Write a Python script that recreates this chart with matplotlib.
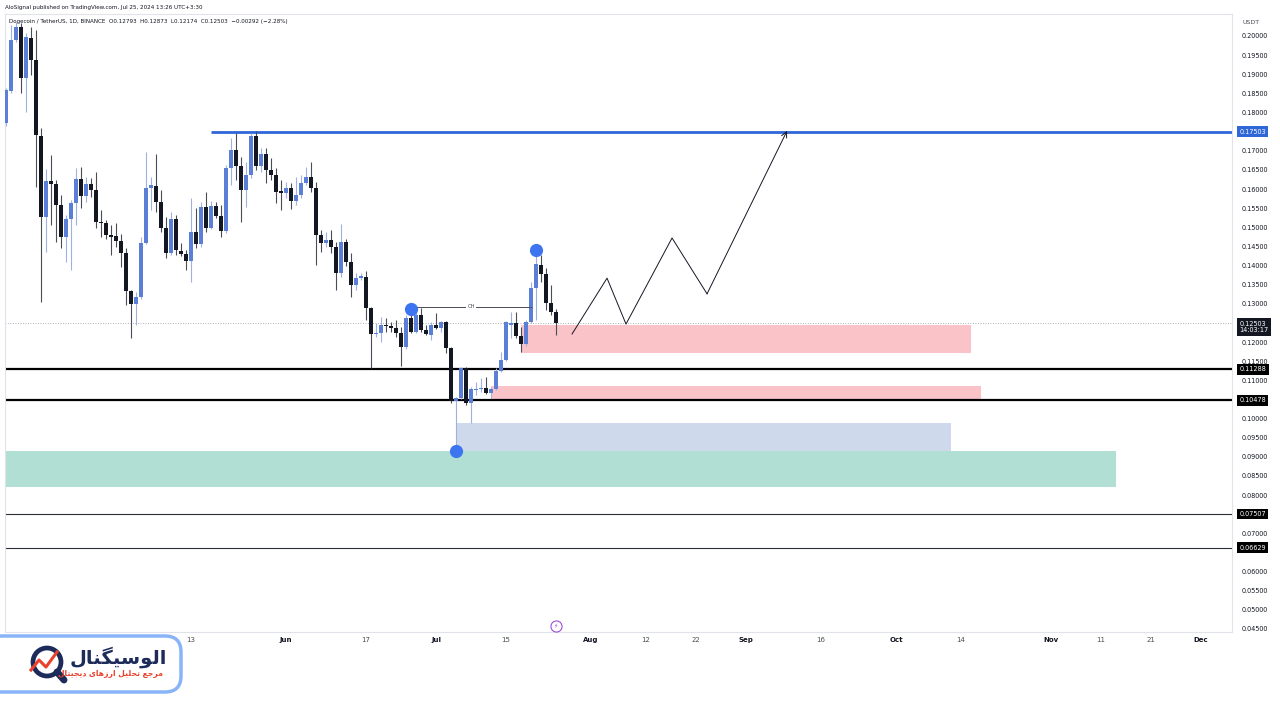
import matplotlib
matplotlib.use("Agg")
import matplotlib.pyplot as plt
import matplotlib.dates as mdates
import matplotlib.transforms as mtrans
from matplotlib.patches import Rectangle, FancyBboxPatch, Circle
from matplotlib.lines import Line2D
import pandas as pd

plt.rcParams['font.family'] = ['DejaVu Sans']

# daily DOGE/USDT candles, Apr 6 - Jul 25 2024
dates = pd.date_range('2024-04-06', periods=111, freq='D')

opens = [0.1773, 0.1856, 0.1990, 0.2024, 0.1890, 0.1995, 0.1937, 0.1739, 0.1527, 0.1621,
         0.1613, 0.1558, 0.1475, 0.1522, 0.1563, 0.1626, 0.1582, 0.1613, 0.1597, 0.1514,
         0.1511, 0.1480, 0.1477, 0.1464, 0.1433, 0.1333, 0.1299, 0.1318, 0.1459, 0.1603,
         0.1608, 0.1566, 0.1498, 0.1433, 0.1522, 0.1438, 0.1430, 0.1412, 0.1488, 0.1456,
         0.1553, 0.1498, 0.1556, 0.1530, 0.1490, 0.1655, 0.1702, 0.1660, 0.1597, 0.1637,
         0.1739, 0.1660, 0.1692, 0.1650, 0.1637, 0.1595, 0.1590, 0.1603, 0.1569, 0.1584,
         0.1616, 0.1631, 0.1603, 0.1480, 0.1459, 0.1467, 0.1448, 0.1380, 0.1462, 0.1409,
         0.1349, 0.1367, 0.1370, 0.1289, 0.1221, 0.1224, 0.1245, 0.1242, 0.1237, 0.1224,
         0.1187, 0.1263, 0.1226, 0.1271, 0.1231, 0.1218, 0.1245, 0.1237, 0.1252, 0.1184,
         0.1046, 0.1054, 0.1132, 0.1041, 0.1075, 0.1077, 0.1080, 0.1067, 0.1077, 0.1124,
         0.1153, 0.1245, 0.1250, 0.1216, 0.1195, 0.1252, 0.1341, 0.1401, 0.1378, 0.1302,
         0.12793]
highs = [0.1864, 0.2029, 0.2037, 0.2034, 0.2008, 0.2024, 0.2016, 0.1760, 0.1652, 0.1689,
         0.1624, 0.1584, 0.1532, 0.1571, 0.1655, 0.1658, 0.1631, 0.1629, 0.1644, 0.1545,
         0.1519, 0.1506, 0.1511, 0.1482, 0.1446, 0.1336, 0.1331, 0.1475, 0.1697, 0.1631,
         0.1692, 0.1597, 0.1527, 0.1540, 0.1532, 0.1459, 0.1441, 0.1577, 0.1550, 0.1566,
         0.1592, 0.1569, 0.1566, 0.1558, 0.1663, 0.1733, 0.1746, 0.1684, 0.1671, 0.1746,
         0.1752, 0.1707, 0.1707, 0.1681, 0.1655, 0.1624, 0.1618, 0.1616, 0.1631, 0.1637,
         0.1658, 0.1671, 0.1618, 0.1493, 0.1488, 0.1493, 0.1462, 0.1509, 0.1469, 0.1433,
         0.1380, 0.1380, 0.1386, 0.1292, 0.1250, 0.1265, 0.1263, 0.1252, 0.1258, 0.1239,
         0.1271, 0.1284, 0.1279, 0.1289, 0.1245, 0.1252, 0.1276, 0.1255, 0.1255, 0.1187,
         0.1056, 0.1135, 0.1135, 0.1083, 0.1096, 0.1106, 0.1109, 0.1083, 0.1132, 0.1174,
         0.1255, 0.1279, 0.1279, 0.1239, 0.1258, 0.1357, 0.1433, 0.1428, 0.1394, 0.1349,
         0.12873]
lows = [0.1765, 0.1851, 0.1984, 0.1851, 0.1801, 0.1898, 0.1605, 0.1305, 0.1435, 0.1506,
        0.1462, 0.1446, 0.1409, 0.1388, 0.1506, 0.1550, 0.1566, 0.1579, 0.1498, 0.1475,
        0.1469, 0.1428, 0.1448, 0.1396, 0.1297, 0.1211, 0.1245, 0.1313, 0.1456, 0.1545,
        0.1540, 0.1488, 0.1420, 0.1428, 0.1428, 0.1425, 0.1388, 0.1357, 0.1446, 0.1448,
        0.1488, 0.1496, 0.1524, 0.1475, 0.1485, 0.1611, 0.1624, 0.1514, 0.1553, 0.1629,
        0.1650, 0.1644, 0.1616, 0.1624, 0.1563, 0.1545, 0.1577, 0.1548, 0.1558, 0.1577,
        0.1611, 0.1592, 0.1401, 0.1435, 0.1448, 0.1433, 0.1336, 0.1370, 0.1399, 0.1318,
        0.1336, 0.1362, 0.1258, 0.1132, 0.1213, 0.1200, 0.1226, 0.1226, 0.1213, 0.1137,
        0.1182, 0.1224, 0.1224, 0.1226, 0.1218, 0.1205, 0.1234, 0.1226, 0.1171, 0.1041,
        0.0915, 0.1051, 0.1035, 0.0988, 0.1062, 0.1069, 0.1064, 0.1054, 0.1075, 0.1122,
        0.1150, 0.1211, 0.1211, 0.1174, 0.1190, 0.1250, 0.1258, 0.1357, 0.1284, 0.1271,
        0.12174]
closes = [0.1859, 0.1990, 0.2024, 0.1890, 0.1997, 0.1937, 0.1741, 0.1527, 0.1621, 0.1613,
          0.1558, 0.1475, 0.1522, 0.1563, 0.1626, 0.1582, 0.1613, 0.1597, 0.1514, 0.1511,
          0.1480, 0.1475, 0.1464, 0.1433, 0.1333, 0.1299, 0.1318, 0.1459, 0.1603, 0.1611,
          0.1566, 0.1498, 0.1433, 0.1522, 0.1441, 0.1430, 0.1412, 0.1488, 0.1456, 0.1553,
          0.1498, 0.1556, 0.1530, 0.1490, 0.1655, 0.1702, 0.1660, 0.1597, 0.1637, 0.1739,
          0.1660, 0.1692, 0.1650, 0.1637, 0.1592, 0.1590, 0.1603, 0.1569, 0.1584, 0.1616,
          0.1631, 0.1603, 0.1480, 0.1459, 0.1467, 0.1448, 0.1380, 0.1462, 0.1409, 0.1349,
          0.1367, 0.1373, 0.1289, 0.1221, 0.1224, 0.1245, 0.1242, 0.1237, 0.1224, 0.1187,
          0.1263, 0.1226, 0.1271, 0.1231, 0.1221, 0.1245, 0.1237, 0.1252, 0.1184, 0.1046,
          0.1054, 0.1132, 0.1041, 0.1077, 0.1077, 0.1080, 0.1067, 0.1077, 0.1124, 0.1153,
          0.1252, 0.1250, 0.1216, 0.1195, 0.1252, 0.1341, 0.1404, 0.1378, 0.1302, 0.1279,
          0.12503]

# drawn zones: start, end, top, bottom, colour
zone_start = ['2024-07-18', '2024-07-12', '2024-07-05', '2024-04-05']
zone_end = ['2024-10-16', '2024-10-18', '2024-10-12', '2024-11-14']
zone_top = [0.1245, 0.1085, 0.0988, 0.0915]
zone_bottom = [0.1171, 0.1048, 0.0915, 0.0821]
zone_colors = ['#f9c3c8', '#f9c3c8', '#cfd9ec', '#b2dfd4']

# horizontal levels
key_levels = [0.11288, 0.10478]
thin_levels = [0.07507, 0.06629]
resistance = 0.17503
resistance_from = '2024-05-17'
last_price = 0.12503

# swing markers
dot_dates = ['2024-06-26', '2024-07-21', '2024-07-05']
dot_prices = [0.1286, 0.1441, 0.0915]

# CH line
ch_from, ch_to, ch_price = '2024-06-26', '2024-07-20', 0.1292

# projected path
path_dates = ['2024-07-28 05:00', '2024-08-04 05:00', '2024-08-08', '2024-08-17 05:00',
              '2024-08-24 05:00', '2024-09-09 05:00']
path_prices = [0.1221, 0.1367, 0.1247, 0.1472, 0.1326, 0.1752]

tick_dates = ['2024-05-13', '2024-06-01', '2024-06-17', '2024-07-01', '2024-07-15',
              '2024-08-01', '2024-08-12', '2024-08-22', '2024-09-01', '2024-09-16',
              '2024-10-01', '2024-10-14', '2024-11-01', '2024-11-11', '2024-11-21',
              '2024-12-01']
tick_labels = ['13', 'Jun', '17', 'Jul', '15', 'Aug', '12', '22', 'Sep', '16',
               'Oct', '14', 'Nov', '11', '21', 'Dec']

# price-scale labels hidden behind the axis tags
hidden_ticks = [0.175, 0.125, 0.105, 0.075, 0.065]

UP = '#5b7fd6'
UP_WICK = '#9fb1df'
DOWN = '#131722'
DOWN_WICK = '#4a4d55'


def d2n(s):
    return mdates.date2num(pd.Timestamp(s))


fig = plt.figure(figsize=(12.8, 7.2), dpi=100)
W, H = 1280, 720
ax = fig.add_axes([5 / W, 1 - 632 / H, (1232 - 5) / W, (632 - 14) / H])

x = mdates.date2num(dates)
x0 = x[0]
ax.set_xlim(x0 - 0.2, x0 + 245.2)
ax.set_ylim(0.04421, 0.20575)

# zones
for s, e, t, b, c in zip(zone_start, zone_end, zone_top, zone_bottom, zone_colors):
    ax.add_patch(Rectangle((d2n(s), b), d2n(e) - d2n(s), t - b, facecolor=c,
                           edgecolor='none', zorder=1))

# levels
for lv in key_levels:
    ax.axhline(lv, color='#000000', lw=1.6, zorder=2)
for lv in thin_levels:
    ax.axhline(lv, color='#2a2e39', lw=0.8, zorder=2)
ax.plot([d2n(resistance_from), x0 + 246], [resistance, resistance], color='#2f66d8',
        lw=2, zorder=2, solid_capstyle='butt')
ax.axhline(last_price, color='#9598a1', lw=0.6, ls=(0, (1, 2)), zorder=2)

# candles
for xi, o, h, l, c in zip(x, opens, highs, lows, closes):
    up = c >= o
    ax.vlines(xi, l, h, color=UP_WICK if up else DOWN_WICK, lw=0.8, zorder=3)
    ax.bar(xi, max(abs(c - o), 0.00012), bottom=min(o, c), width=0.74,
           color=UP if up else DOWN, zorder=4, linewidth=0)

# CH line
ax.plot([d2n(ch_from), d2n(ch_to)], [ch_price, ch_price], color='#4a4d55', lw=0.7, zorder=5)
ax.text((d2n(ch_from) + d2n(ch_to)) / 2, ch_price, 'CH', fontsize=3.8, color='#4a4d55',
        ha='center', va='center', zorder=6,
        bbox=dict(boxstyle='square,pad=0.3', fc='white', ec='none'))

# projected path
px = [d2n(d) for d in path_dates]
ax.plot(px[:-1], path_prices[:-1], color='#131722', lw=0.7, zorder=5)
ax.annotate('', xy=(px[-1], path_prices[-1]), xytext=(px[-2], path_prices[-2]),
            arrowprops=dict(arrowstyle='->,head_length=0.4,head_width=0.2', lw=0.7,
                            color='#131722', shrinkA=0, shrinkB=0), zorder=5)

# swing dots
ax.plot([d2n(d) for d in dot_dates], dot_prices, 'o', color='#3d74f0', ms=9.5,
        mec='none', zorder=7, clip_on=False)

# lightning icon near the time axis
ax.plot([d2n('2024-07-25')], [0.0457], 'o', ms=8, mfc='white', mec='#9c4fd6', mew=0.8,
        zorder=7, clip_on=False)
ax.text(d2n('2024-07-25'), 0.0457, '\u26a1', fontsize=4.5, color='#9c4fd6', ha='center',
        va='center', zorder=8)

# axes styling
for sp in ax.spines.values():
    sp.set_color('#e0e3eb')
    sp.set_linewidth(0.8)
ax.yaxis.tick_right()
yt = [round(0.045 + 0.005 * k, 3) for k in range(32)]
yt = [v for v in yt if v not in hidden_ticks]
ax.set_yticks(yt)
ax.set_yticklabels(['%.5f' % v for v in yt])
ax.tick_params(axis='y', length=0, pad=7, labelsize=4.7, labelcolor='#131722')
ax.set_xticks([d2n(d) for d in tick_dates])
ax.set_xticklabels(tick_labels)
ax.tick_params(axis='x', length=0, pad=3.5, labelsize=5, labelcolor='#4a4d55')
for lab in ax.get_xticklabels():
    if not lab.get_text().isdigit():
        lab.set_fontweight('bold')
        lab.set_color('#131722')

# price tags on the axis
tr = mtrans.blended_transform_factory(ax.transAxes, ax.transData)
tag_x = 1 + 7.5 / 1227


def tag(y, s, fc):
    ax.text(tag_x, y, s, transform=tr, fontsize=4.7, color='white', ha='left',
            va='center', zorder=10, clip_on=False,
            bbox=dict(boxstyle='square,pad=0.35', fc=fc, ec='none'))


tag(resistance, '%.5f' % resistance, '#2f66d8')
for lv in key_levels + thin_levels:
    tag(lv, '%.5f' % lv, '#000000')
ax.text(tag_x, last_price - 0.0011, '%.5f\n14:03:17' % last_price, transform=tr,
        fontsize=4.7, color='white', ha='left', va='center', zorder=10, clip_on=False,
        linespacing=1.15, bbox=dict(boxstyle='square,pad=0.35', fc='#131722', ec='none'))
fig.text(1251 / W, 1 - 22 / H, 'USDT', fontsize=4.5, color='#4a4d55', ha='center',
         va='center')

# header
fig.text(5 / W, 1 - 7 / H, 'AloSignal published on TradingView.com, Jul 25, 2024 13:26 UTC+3:30',
         fontsize=4.1, color='#131722', va='center')
fig.text(9 / W, 1 - 21 / H,
         'Dogecoin / TetherUS, 1D, BINANCE  O0.12793  H0.12873  L0.12174  C0.12503  '
         '\u22120.00292 (\u22122.28%)', fontsize=4.1, color='#131722', va='center')

# logo
idt = mtrans.IdentityTransform()
fig.add_artist(FancyBboxPatch((-30, H - 692), 211, 56,
                              boxstyle='round,pad=0,rounding_size=16', fc='white',
                              ec='#8ab4f8', lw=2.5, transform=idt))
fig.add_artist(Circle((47, H - 662), 14, fill=False, ec='#1c2b5a', lw=3.4, transform=idt))
fig.add_artist(Line2D([57, 64], [H - 672, H - 680], color='#1c2b5a', lw=5,
                      solid_capstyle='round', transform=idt))
fig.add_artist(Line2D([31, 39, 46, 57], [H - 670, H - 660, H - 667, H - 652],
                      color='#e8412c', lw=2.2, transform=idt))
title_fa = '\ufedd\ufe8e\ufee8\ufb95\ufbff\ufeb3\ufeee\ufedf\ufe8d'
sub_fa = ('\ufedd\ufe8e\ufe98\ufbff\ufea0\ufbfe\ufea9 '
          '\ufbfc\ufe8e\ufeeb\ufeaf\ufead\ufe8d '
          '\ufede\ufbff\ufee0\ufea4\ufe97 '
          '\ufeca\ufe9f\ufeae\ufee3')
fig.text(118 / W, 1 - 657 / H, title_fa, fontsize=14, fontweight='bold', color='#1c2b5a',
         ha='center', va='center')
fig.text(111 / W, 1 - 673 / H, sub_fa, fontsize=5.5, fontweight='bold', color='#e8412c',
         ha='center', va='center')

fig.savefig('out.png', dpi=100)
